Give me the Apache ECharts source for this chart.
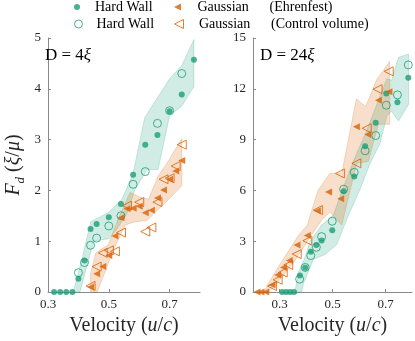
<!DOCTYPE html>
<html>
<head>
<meta charset="utf-8">
<script src="https://cdn.jsdelivr.net/npm/echarts@6/dist/echarts.min.js"></script>
<style>
  html, body { margin: 0; padding: 0; background: #fff; }
  #chart { width: 415px; height: 341px; }
</style>
</head>
<body>
<div id="chart"></div>
<script>
// ---- data ----
const xTicks = [0.3, 0.5, 0.7];

// D = 4xi panel
const hwEhr4 = [[0.32,0],[0.34,0],[0.36,0],[0.38,0],[0.40,0.26],[0.42,0.62],[0.44,1.24],[0.46,1.34],[0.50,1.47],[0.54,1.73],[0.58,2.31],[0.62,2.90],[0.66,3.09],[0.70,3.56],[0.74,3.89],[0.78,4.57]];
const hwCv4 = [[0.40,0.38],[0.42,0.58],[0.44,0.92],[0.46,1.06],[0.50,1.30],[0.54,1.50],[0.58,2.12],[0.62,2.37],[0.66,3.32],[0.70,3.57],[0.74,4.30]];
const gEhr4 = [[0.44,0.10],[0.46,0.36],[0.48,0.50],[0.50,0.72],[0.52,1.10],[0.54,1.46],[0.56,1.64],[0.58,1.65],[0.60,1.69],[0.62,1.56],[0.64,1.61],[0.66,1.85],[0.68,2.01],[0.70,2.22],[0.72,2.38],[0.74,2.59]];
const gCv4 = [[0.44,0.12],[0.46,0.50],[0.48,0.77],[0.50,0.82],[0.52,0.80],[0.54,1.17],[0.56,1.70],[0.60,1.77],[0.62,1.19],[0.64,1.27],[0.66,1.77],[0.68,2.22],[0.70,2.24],[0.72,2.48],[0.74,2.90]];
const hwBandHi4 = [[0.383,0],[0.41,0.6],[0.44,1.38],[0.50,1.57],[0.544,1.83],[0.58,2.34],[0.618,3.43],[0.70,4.2],[0.74,4.46],[0.78,4.97]];
const hwBandLo4 = [[0.405,0],[0.45,1.0],[0.50,1.05],[0.525,1.22],[0.56,1.55],[0.585,2.0],[0.626,2.41],[0.662,2.41],[0.70,3.47],[0.74,3.66],[0.78,4.04]];
const gBandHi4 = [[0.44,0],[0.44,0.36],[0.457,0.77],[0.498,0.93],[0.529,1.41],[0.57,1.96],[0.606,1.86],[0.631,1.83],[0.662,2.28],[0.698,2.6],[0.74,3.02]];
const gBandLo4 = [[0.462,0],[0.493,0.48],[0.513,0.8],[0.554,1.32],[0.585,1.38],[0.626,1.41],[0.698,1.83],[0.74,2.09]];

// D = 24xi panel
const hwEhr24 = [[0.31,0],[0.325,0],[0.34,0],[0.355,0],[0.377,0.97],[0.397,1.43],[0.418,2.37],[0.439,2.77],[0.459,3.04],[0.499,3.64],[0.542,5.95],[0.582,6.82],[0.623,8.6],[0.663,10.0],[0.703,11.72],[0.745,11.21],[0.786,12.65]];
const hwCv24 = [[0.376,0.76],[0.397,1.45],[0.418,2.15],[0.439,2.64],[0.459,3.27],[0.499,4.18],[0.542,6.07],[0.582,7.07],[0.623,8.34],[0.663,9.24],[0.703,11.03],[0.745,11.64],[0.786,13.41]];
const gEhr24 = [[0.215,0],[0.23,0],[0.248,0],[0.272,0.42],[0.293,1.0],[0.315,1.45],[0.337,1.86],[0.366,2.78],[0.405,3.34],[0.443,4.8],[0.485,5.91],[0.531,5.51],[0.59,9.76],[0.633,9.3],[0.673,11.32],[0.713,11.82]];
const gCv24 = [[0.272,0.35],[0.293,0.72],[0.312,1.15],[0.333,1.6],[0.365,2.24],[0.405,3.03],[0.445,4.84],[0.528,7.0],[0.59,7.6],[0.629,9.67],[0.67,11.98],[0.712,13.03]];
const hwBandHi24 = [[0.358,0],[0.372,1.2],[0.395,2.0],[0.415,2.99],[0.459,3.95],[0.503,4.53],[0.547,6.45],[0.591,8.18],[0.629,9.53],[0.667,11.07],[0.705,12.6],[0.723,12.5],[0.749,13.86],[0.787,14.05]];
const hwBandLo24 = [[0.384,0],[0.39,0.49],[0.428,1.93],[0.472,2.22],[0.516,2.8],[0.56,4.53],[0.604,6.07],[0.642,7.6],[0.679,8.76],[0.705,10.4],[0.723,10.68],[0.749,10.1],[0.787,11.07]];
const gBandHi24 = [[0.24,0],[0.265,0.7],[0.30,1.6],[0.37,3.3],[0.405,3.95],[0.445,6.0],[0.49,7.0],[0.535,7.03],[0.59,11.4],[0.625,10.95],[0.667,12.55],[0.716,13.62]];
const gBandLo24 = [[0.258,0],[0.29,0.5],[0.358,1.84],[0.421,3.37],[0.459,4.24],[0.49,4.72],[0.535,3.95],[0.591,7.6],[0.635,7.7],[0.673,9.91],[0.716,9.91]];

// ---- styling ----
const GREEN = '#1b9e77';
const ORANGE = '#d95f02';
const SERIF = 'Liberation Serif';
const AXIS_GREY = '#8a8a8a';
const TRI = 'path://M0,5L10,0L10,10Z';

const names = {
  hwE: 'Hard Wall (Ehrenfest)',
  gE: 'Gaussian (Ehrenfest)',
  hwC: 'Hard Wall (Control volume)',
  gC: 'Gaussian (Control volume)'
};

function bandSeries(idx, hi, lo, fill, edge) {
  const pts = hi.concat(lo.slice().reverse());
  return {
    type: 'custom',
    xAxisIndex: idx,
    yAxisIndex: idx,
    silent: true,
    z: 1,
    data: [pts[0]],
    renderItem(params, api) {
      return {
        type: 'polygon',
        shape: { points: pts.map(p => api.coord(p)) },
        style: { fill: fill, stroke: edge, lineWidth: 0.7 }
      };
    }
  };
}

function pointSeries(idx, name, data, kind) {
  const s = { type: 'scatter', name: name, xAxisIndex: idx, yAxisIndex: idx, data: data, z: 3 };
  if (kind === 'hwE') { s.symbol = 'circle'; s.symbolSize = 6; s.itemStyle = { color: GREEN }; }
  if (kind === 'hwC') { s.symbol = 'circle'; s.symbolSize = 8; s.itemStyle = { color: 'rgba(255,255,255,0)', borderColor: GREEN, borderWidth: 1 }; }
  if (kind === 'gE') { s.symbol = TRI; s.symbolSize = 7; s.itemStyle = { color: ORANGE }; }
  if (kind === 'gC') { s.symbol = TRI; s.symbolSize = 9; s.itemStyle = { color: 'rgba(255,255,255,0)', borderColor: ORANGE, borderWidth: 1 }; }
  return s;
}

function xAxis(idx, min, max) {
  return {
    type: 'value', gridIndex: idx, min: min, max: max,
    name: '{n|Velocity (}{i|u}{n|/}{i|c}{n|)}',
    nameLocation: 'middle', nameGap: 24,
    nameTextStyle: {
      rich: {
        n: { fontFamily: SERIF, fontSize: 20, color: '#262626' },
        i: { fontFamily: SERIF, fontSize: 20, fontStyle: 'italic', color: '#262626' }
      }
    },
    axisLine: { lineStyle: { color: AXIS_GREY, width: 1 } },
    axisTick: { inside: true, length: 3, lineStyle: { color: AXIS_GREY }, customValues: xTicks },
    axisLabel: { customValues: xTicks, fontFamily: SERIF, fontSize: 13, color: '#262626', margin: 6, formatter: v => v.toFixed(1) },
    splitLine: { show: false }
  };
}

function yAxis(idx, max, interval, withName) {
  const a = {
    type: 'value', gridIndex: idx, min: 0, max: max, interval: interval,
    axisLine: { show: true, lineStyle: { color: AXIS_GREY, width: 1 } },
    axisTick: { show: true, inside: true, length: 3, lineStyle: { color: AXIS_GREY } },
    axisLabel: { fontFamily: SERIF, fontSize: 13, color: '#262626', margin: 7 },
    splitLine: { show: false }
  };
  if (withName) {
    a.name = '{i|F}{s|d}{n| (}{i|ξ}{n|/}{i|μ}{n|)}';
    a.nameLocation = 'middle';
    a.nameGap = 21;
    a.nameTextStyle = {
      lineHeight: 26,
      rich: {
        n: { fontFamily: SERIF, fontSize: 20, color: '#262626', lineHeight: 26 },
        i: { fontFamily: SERIF, fontSize: 20, fontStyle: 'italic', color: '#262626', lineHeight: 26 },
        s: { fontFamily: SERIF, fontSize: 13, fontStyle: 'italic', color: '#262626', verticalAlign: 'bottom', lineHeight: 26, padding: [11, 0, 0, 0] }
      }
    };
  }
  return a;
}

const legendText = {
  fontFamily: SERIF, fontSize: 14, color: '#000',
  rich: {
    sp: { width: 7 },
    sp2: { width: 9 },
    a: { fontFamily: SERIF, fontSize: 14, color: '#000', width: 66 },
    a2: { fontFamily: SERIF, fontSize: 14, color: '#000', width: 72 },
    b: { fontFamily: SERIF, fontSize: 14, color: '#000' }
  }
};

function legendItem(name, left, top, icon, size, style, label) {
  return {
    data: [{ name: name, icon: icon, itemStyle: style }],
    left: left, top: top, padding: 0,
    itemWidth: 12, itemHeight: size,
    selectedMode: false,
    textStyle: legendText,
    formatter: () => label
  };
}

const chart = echarts.init(document.getElementById('chart'), null, { renderer: 'canvas' });

const option = {
  backgroundColor: '#fff',
  animation: false,
  title: [
    { text: 'D = 4{i|ξ}', left: 45, top: 47, padding: 0,
      textStyle: { fontFamily: SERIF, fontSize: 17, fontWeight: 'normal', color: '#000',
        rich: { i: { fontFamily: SERIF, fontSize: 17, fontStyle: 'italic', color: '#000' } } } },
    { text: 'D = 24{i|ξ}', left: 260, top: 47, padding: 0,
      textStyle: { fontFamily: SERIF, fontSize: 17, fontWeight: 'normal', color: '#000',
        rich: { i: { fontFamily: SERIF, fontSize: 17, fontStyle: 'italic', color: '#000' } } } }
  ],
  legend: [
    legendItem(names.hwE, 74, 0, 'circle', 6, { color: GREEN }, '{sp| }{a|Hard Wall}'),
    legendItem(names.gE, 174, 0, TRI, 7, { color: ORANGE }, '{sp2| }{a2|Gaussian}{b|(Ehrenfest)}'),
    legendItem(names.hwC, 74, 17, 'circle', 8, { color: 'rgba(255,255,255,0)', borderColor: GREEN, borderWidth: 1 }, '{sp| }{a|Hard Wall}'),
    legendItem(names.gC, 174, 17, TRI, 9, { color: 'rgba(255,255,255,0)', borderColor: ORANGE, borderWidth: 1 }, '{sp2| }{a2|Gaussian}{b|(Control volume)}')
  ],
  grid: [
    { left: 38, top: 38, width: 162, height: 260.5 },
    { left: 253, top: 38, width: 159, height: 260.5 }
  ],
  xAxis: [xAxis(0, 0.3, 0.8), xAxis(1, 0.2, 0.8)],
  yAxis: [yAxis(0, 5, 1, true), yAxis(1, 15, 3, false)],
  series: [
    bandSeries(0, hwBandHi4, hwBandLo4, 'rgba(27,158,119,0.2)', 'rgba(27,158,119,0.3)'),
    bandSeries(0, gBandHi4, gBandLo4, 'rgba(217,95,2,0.2)', 'rgba(217,95,2,0.3)'),
    bandSeries(1, hwBandHi24, hwBandLo24, 'rgba(27,158,119,0.2)', 'rgba(27,158,119,0.3)'),
    bandSeries(1, gBandHi24, gBandLo24, 'rgba(217,95,2,0.2)', 'rgba(217,95,2,0.3)'),
    pointSeries(0, names.hwE, hwEhr4, 'hwE'),
    pointSeries(0, names.hwC, hwCv4, 'hwC'),
    pointSeries(0, names.gE, gEhr4, 'gE'),
    pointSeries(0, names.gC, gCv4, 'gC'),
    pointSeries(1, names.hwE, hwEhr24, 'hwE'),
    pointSeries(1, names.hwC, hwCv24, 'hwC'),
    pointSeries(1, names.gE, gEhr24, 'gE'),
    pointSeries(1, names.gC, gCv24, 'gC')
  ]
};

chart.setOption(option);
</script>
</body>
</html>
